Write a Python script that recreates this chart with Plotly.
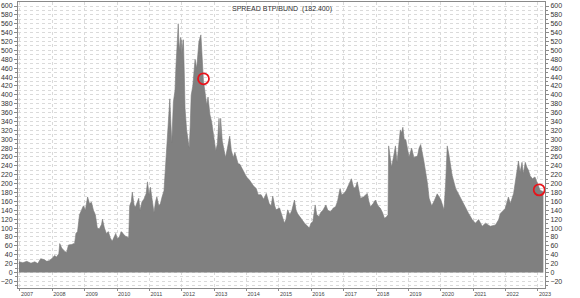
import plotly.graph_objects as go

# decimal year positions and spread values (bp)
years = [
    2006.97, 2007.09, 2007.21, 2007.34, 2007.46, 2007.55, 2007.64, 2007.74, 2007.83, 2007.92,
    2008.01, 2008.07, 2008.13, 2008.20, 2008.23, 2008.29, 2008.38, 2008.44, 2008.50, 2008.60,
    2008.69, 2008.73, 2008.78, 2008.84, 2008.90, 2008.96, 2009.02, 2009.09, 2009.15, 2009.21,
    2009.27, 2009.33, 2009.39, 2009.45, 2009.52, 2009.55, 2009.61, 2009.67, 2009.73, 2009.79,
    2009.85, 2009.91, 2009.96, 2010.01, 2010.07, 2010.13, 2010.19, 2010.25, 2010.31, 2010.36,
    2010.39, 2010.44, 2010.47, 2010.53, 2010.57, 2010.62, 2010.67, 2010.71, 2010.77, 2010.83,
    2010.90, 2010.94, 2010.99, 2011.03, 2011.08, 2011.14, 2011.19, 2011.23, 2011.29, 2011.34,
    2011.39, 2011.45, 2011.49, 2011.54, 2011.59, 2011.63, 2011.66, 2011.69, 2011.74, 2011.79,
    2011.82, 2011.85, 2011.89, 2011.92, 2011.96, 2011.98, 2012.00, 2012.03, 2012.05, 2012.08,
    2012.10, 2012.15, 2012.21, 2012.23, 2012.26, 2012.29, 2012.34, 2012.41, 2012.46, 2012.53,
    2012.59, 2012.63, 2012.67, 2012.71, 2012.77, 2012.81, 2012.87, 2012.92, 2012.95, 2012.99,
    2013.05, 2013.10, 2013.15, 2013.18, 2013.20, 2013.25, 2013.31, 2013.35, 2013.41, 2013.48,
    2013.53, 2013.59, 2013.64, 2013.69, 2013.74, 2013.79, 2013.85, 2013.94, 2014.00, 2014.09,
    2014.21, 2014.30, 2014.36, 2014.45, 2014.53, 2014.61, 2014.70, 2014.76, 2014.81, 2014.87,
    2014.91, 2015.02, 2015.10, 2015.17, 2015.22, 2015.27, 2015.34, 2015.40, 2015.48, 2015.53,
    2015.58, 2015.65, 2015.73, 2015.80, 2015.89, 2015.94, 2015.99, 2016.05, 2016.12, 2016.17,
    2016.24, 2016.29, 2016.36, 2016.45, 2016.51, 2016.60, 2016.68, 2016.75, 2016.81, 2016.89,
    2016.94, 2017.01, 2017.08, 2017.16, 2017.24, 2017.31, 2017.37, 2017.42, 2017.48, 2017.52,
    2017.61, 2017.73, 2017.78, 2017.83, 2017.91, 2017.98, 2018.06, 2018.13, 2018.20, 2018.26,
    2018.32, 2018.37, 2018.39, 2018.44, 2018.48, 2018.54, 2018.60, 2018.65, 2018.70, 2018.75,
    2018.79, 2018.83, 2018.87, 2018.92, 2019.02, 2019.10, 2019.17, 2019.28, 2019.33, 2019.38,
    2019.48, 2019.53, 2019.59, 2019.64, 2019.72, 2019.79, 2019.89, 2020.00, 2020.10, 2020.15,
    2020.20, 2020.25, 2020.30, 2020.35, 2020.46, 2020.56, 2020.66, 2020.76, 2020.86, 2020.97,
    2021.07, 2021.17, 2021.28, 2021.38, 2021.53, 2021.69, 2021.79, 2021.84, 2021.99, 2022.09,
    2022.15, 2022.25, 2022.32, 2022.40, 2022.45, 2022.51, 2022.55, 2022.61, 2022.66, 2022.71,
    2022.76, 2022.83, 2022.91, 2022.97, 2023.07, 2023.17,
]
spread = [
    24, 22, 25, 21, 24, 20, 31, 29, 25, 27,
    33, 38, 35, 42, 65, 55, 48, 45, 62, 63,
    66, 88, 92, 130, 140, 150, 140, 170, 155, 158,
    140, 130, 100, 98, 108, 120, 100, 88, 92, 78,
    70, 80, 88, 76, 80, 92, 86, 82, 80, 78,
    150, 160, 181, 150, 148, 160, 167, 140, 159, 165,
    178, 204, 175, 192, 165, 135, 160, 170, 150, 155,
    170, 184, 230, 281, 330, 391, 340, 292, 384, 410,
    465, 500, 560, 500, 529, 490, 524, 500, 524, 440,
    370, 320, 296, 280, 330, 399, 420, 480, 460, 520,
    535, 470, 430, 410, 377, 395, 355, 340, 325, 300,
    274, 290, 347, 300, 347, 296, 275, 259, 280, 307,
    275, 259, 270, 259, 245, 244, 235, 225, 215, 208,
    195, 189, 175, 175, 165, 178, 155, 150, 172, 150,
    141, 145, 125, 111, 120, 141, 130, 140, 163, 140,
    132, 125, 119, 110, 104, 100, 111, 115, 152, 130,
    126, 135, 140, 152, 140, 137, 145, 148, 160, 189,
    175, 178, 185, 200, 211, 190, 192, 204, 180, 167,
    170, 178, 160, 148, 155, 163, 150, 145, 135, 122,
    125, 130, 285, 250, 237, 260, 285, 248, 290, 321,
    315, 327, 300, 299, 260, 280, 259, 262, 280, 288,
    250, 230, 200, 167, 150, 160, 177, 164, 141, 200,
    285, 266, 237, 219, 189, 175, 159, 144, 133, 119,
    111, 119, 104, 111, 104, 107, 119, 133, 144, 170,
    155, 178, 211, 251, 226, 248, 222, 248, 237, 230,
    218, 211, 215, 204, 185, 182,
]

# highlighted points (red circles)
mark_years = [2012.67, 2023.04]
mark_values = [436, 186]

tick_years = list(range(2007, 2024))
tick_labels = [str(y) for y in tick_years]

title_text = "SPREAD BTP/BUND\u00a0\u00a0(182.400)"

FONT = "Liberation Sans, Arial, sans-serif"
GRID = "#dadada"
AXIS = "#8a8a8a"
Y_RANGE = [-35, 609]

fig = go.Figure()
fig.add_trace(go.Scatter(
    x=years, y=spread, mode="lines", fill="tozeroy",
    line=dict(color="#7b7b7b", width=0.6), fillcolor="#808080",
    hoverinfo="skip", showlegend=False,
))
fig.add_trace(go.Scatter(
    x=mark_years, y=mark_values, mode="markers",
    marker=dict(symbol="circle-open", size=11, color="#e8141b", line=dict(width=1.8, color="#e8141b")),
    showlegend=False, hoverinfo="skip",
))
# invisible trace for right axis
fig.add_trace(go.Scatter(x=[years[0]], y=[spread[0]], yaxis="y2", mode="markers",
                         marker=dict(opacity=0), showlegend=False, hoverinfo="skip"))

fig.update_layout(
    width=580, height=298,
    margin=dict(l=15, r=35, t=1, b=5),
    paper_bgcolor="white", plot_bgcolor="white",
    font=dict(family=FONT, color="#333333"),
    xaxis=dict(
        range=[2006.94, 2023.22], tickmode="array", tickvals=tick_years, ticktext=tick_labels,
        ticklabelposition="outside right", tickfont=dict(size=5.5, color="#444444"),
        showgrid=True, gridcolor=GRID, griddash="dot", gridwidth=1,
        showline=True, linecolor=AXIS, linewidth=1, mirror=True,
        ticks="outside", ticklen=2, tickcolor=AXIS, zeroline=False,
    ),
    yaxis=dict(
        range=Y_RANGE, dtick=20, tick0=0, side="left",
        tickfont=dict(size=7, color="#333333"),
        showgrid=True, gridcolor=GRID, griddash="dot", gridwidth=1,
        showline=True, linecolor=AXIS, linewidth=1,
        ticks="outside", ticklen=3, tickcolor=AXIS, zeroline=False,
        minor=dict(dtick=10, ticklen=2, tickcolor=AXIS, showgrid=True, gridcolor=GRID, griddash="dot"),
    ),
    yaxis2=dict(
        range=Y_RANGE, dtick=20, tick0=0, side="right", overlaying="y",
        tickfont=dict(size=7, color="#333333"),
        showgrid=False, showline=True, linecolor=AXIS, linewidth=1,
        ticks="outside", ticklen=3, tickcolor=AXIS, zeroline=False,
        minor=dict(dtick=10, ticklen=2, tickcolor=AXIS),
    ),
    annotations=[dict(
        text=title_text, x=0.5, y=1, xref="paper", yref="paper",
        xanchor="center", yanchor="top", showarrow=False, yshift=-1,
        font=dict(size=7, color="#333333", family=FONT),
    )],
)

fig.write_html("out.html")
